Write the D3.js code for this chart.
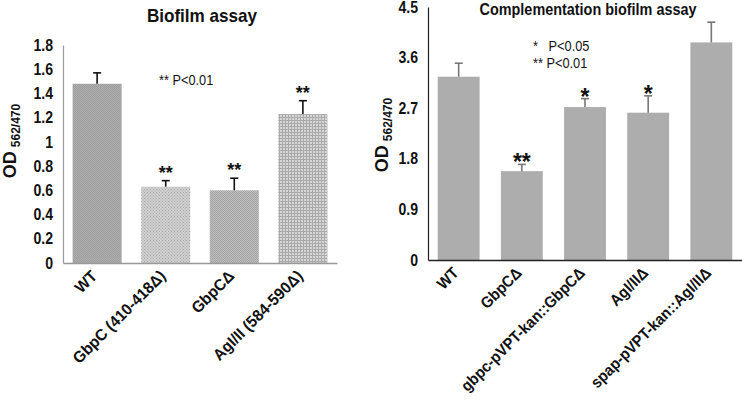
<!DOCTYPE html>
<html>
<head>
<meta charset="utf-8">
<script src="https://cdn.jsdelivr.net/npm/d3@7"></script>
<style>
	body { margin: 0; background: #fff; }
	svg text { font-family: "Liberation Sans", Arial, sans-serif; }
</style>
</head>
<body>
<svg id="chart" width="742" height="404"></svg>
<script>

// left panel
var leftCats = ["WT", "GbpC (410-418\u0394)", "GbpC\u0394", "AgI/II (584-590\u0394)"];
var leftVals = [1.48, 0.63, 0.60, 1.23];
var leftErr = [0.09, 0.05, 0.10, 0.11];
var leftStars = ["", "**", "**", "**"];
var leftTicks = [0, 0.2, 0.4, 0.6, 0.8, 1, 1.2, 1.4, 1.6, 1.8];

// right panel
var rightCats = ["WT", "GbpC\u0394", "gbpc-pVPT-kan::GbpC\u0394", "AgI/II\u0394", "spap-pVPT-kan::AgI/II\u0394"];
var rightVals = [3.26, 1.58, 2.72, 2.62, 3.87];
var rightErr = [0.24, 0.12, 0.15, 0.30, 0.36];
var rightStars = ["", "**", "*", "*", ""];
var rightTicks = [0, 0.9, 1.8, 2.7, 3.6, 4.5];

var svg = d3.select("#chart");
var defs = svg.append("defs");

// squeeze text sideways, the original font is a narrow one
function narrow(sel, k)	{
	sel.each(function()	{
		var w = this.getComputedTextLength();
		d3.select(this)
			.attr("textLength", w * k)
			.attr("lengthAdjust", "spacingAndGlyphs");
	});
}

// fill patterns for the left bars
function dotPattern(id, bg, fg, size)	{
	var p = defs.append("pattern")
		.attr("id", id)
		.attr("width", size)
		.attr("height", size)
		.attr("patternUnits", "userSpaceOnUse");
	p.append("rect").attr("width", size).attr("height", size).attr("fill", bg);
	p.append("rect").attr("width", 1).attr("height", 1).attr("fill", fg);
	p.append("rect").attr("x", size / 2).attr("y", size / 2).attr("width", 1).attr("height", 1).attr("fill", fg);
}
dotPattern("p0", "#adadad", "#9e9e9e", 2);
dotPattern("p1", "#d0d0d0", "#aaaaaa", 3);
dotPattern("p2", "#bdbdbd", "#a5a5a5", 2);

var grid = defs.append("pattern")
	.attr("id", "p3")
	.attr("width", 3)
	.attr("height", 3)
	.attr("patternUnits", "userSpaceOnUse");
grid.append("rect").attr("width", 3).attr("height", 3).attr("fill", "#d6d6d6");
grid.append("rect").attr("width", 3).attr("height", 1).attr("fill", "#aaaaaa");
grid.append("rect").attr("width", 1).attr("height", 3).attr("fill", "#aaaaaa");

function panel(p)	{

	var g = svg.append("g");

	var x = d3.scaleBand()
		.domain(p.cats)
		.range([p.x0, p.x1])
		.paddingInner(p.padIn)
		.paddingOuter(p.padOut);

	var y = d3.scaleLinear()
		.domain([0, p.max])
		.range([p.y0, p.y1]);

	// y axis
	var ya = g.append("g")
		.attr("transform", `translate(${p.x0},0)`)
		.call(d3.axisLeft(y).tickValues(p.ticks).tickSize(0).tickPadding(10).tickFormat(d => d));
	ya.select(".domain").attr("stroke", p.axisColor).attr("stroke-width", 1.2);
	ya.selectAll("text")
		.attr("font-size", 16)
		.attr("font-weight", "bold")
		.attr("fill", "#111")
		.call(narrow, 0.88);

	// bars
	g.selectAll(".bar")
		.data(p.vals)
		.join("rect")
		.attr("class", "bar")
		.attr("x", (d, i) => x(p.cats[i]))
		.attr("y", d => y(d))
		.attr("width", x.bandwidth())
		.attr("height", d => y(0) - y(d))
		.attr("fill", (d, i) => p.fills[i]);

	// error bars, upper half only
	p.vals.forEach( (v, i) => {
		var cx = x(p.cats[i]) + x.bandwidth() / 2;
		var top = y(v + p.err[i]);
		g.append("line")
			.attr("x1", cx).attr("x2", cx)
			.attr("y1", y(v)).attr("y2", top)
			.attr("stroke", p.errColor).attr("stroke-width", 1.6);
		g.append("line")
			.attr("x1", cx - 4).attr("x2", cx + 4)
			.attr("y1", top).attr("y2", top)
			.attr("stroke", p.errColor).attr("stroke-width", 1.6);
		if(p.stars[i])
			g.append("text")
				.attr("x", cx)
				.attr("y", top - p.starGap)
				.attr("text-anchor", "middle")
				.attr("font-size", p.starSize)
				.attr("font-weight", "bold")
				.attr("fill", "#111")
				.text(p.stars[i]);
	});

	// x axis
	var xa = g.append("g")
		.attr("transform", `translate(0,${p.y0})`)
		.call(d3.axisBottom(x).tickSize(0).tickSizeOuter(0).tickPadding(0));
	xa.select(".domain").attr("stroke", p.axisColor).attr("stroke-width", 1.5);
	xa.selectAll("text")
		.attr("font-size", 16)
		.attr("font-weight", "bold")
		.attr("fill", "#111")
		.attr("text-anchor", "end")
		.attr("dy", null)
		.attr("y", 0)
		.attr("transform", "translate(1,14) rotate(-45)")
		.call(narrow, p.labelSqueeze);

	// y title
	var t = g.append("text")
		.attr("transform", `translate(${p.titleX},${p.titleY}) rotate(-90)`)
		.attr("text-anchor", "middle")
		.attr("font-weight", "bold")
		.attr("fill", "#111");
	t.append("tspan").attr("font-size", 18).text("OD");
	t.append("tspan").attr("font-size", 12).attr("dx", 4).attr("dy", 4).text("562/470");

	// chart title
	g.append("text")
		.attr("x", p.headX)
		.attr("y", p.headY)
		.attr("text-anchor", "middle")
		.attr("font-size", p.headSize)
		.attr("font-weight", "bold")
		.attr("fill", "#111")
		.text(p.head)
		.call(narrow, 0.9);

	// p-value notes
	p.notes.forEach( n => {
		g.append("text")
			.attr("x", n.x)
			.attr("y", n.y)
			.attr("font-size", 15)
			.attr("fill", "#111")
			.attr("xml:space", "preserve")
			.text(n.t)
			.call(narrow, 0.85);
	});
}

panel({
	cats: leftCats, vals: leftVals, err: leftErr, stars: leftStars, ticks: leftTicks,
	max: 1.8, x0: 63, x1: 337, y0: 263, y1: 45, padIn: 0.285, padOut: 0.14,
	fills: ["url(#p0)", "url(#p1)", "url(#p2)", "url(#p3)"],
	axisColor: "#999", errColor: "#111", starSize: 18, starGap: 2, labelSqueeze: 0.96,
	titleX: 16, titleY: 141, head: "Biofilm assay", headX: 202, headY: 22, headSize: 19,
	notes: [ { x: 159, y: 85, t: "** P<0.01" } ]
});

panel({
	cats: rightCats, vals: rightVals, err: rightErr, stars: rightStars, ticks: rightTicks,
	max: 4.5, x0: 428, x1: 742, y0: 260, y1: 7, padIn: 0.337, padOut: 0.154,
	fills: rightCats.map(() => "#adadad"),
	axisColor: "#222", errColor: "#777", starSize: 23, starGap: -6, labelSqueeze: 0.92,
	titleX: 388, titleY: 135, head: "Complementation biofilm assay", headX: 588, headY: 15, headSize: 16,
	notes: [ { x: 533, y: 51, t: "*   P<0.05" }, { x: 533, y: 68, t: "** P<0.01" } ]
});

</script>
</body>
</html>
